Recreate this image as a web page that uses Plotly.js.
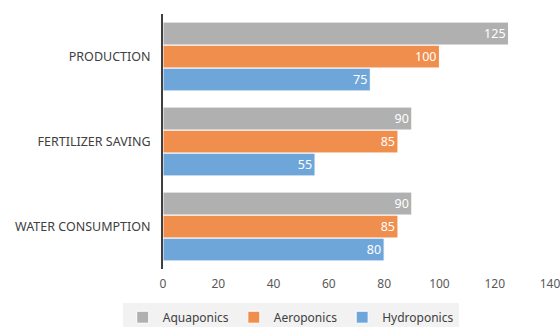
<!DOCTYPE html>
<html>
<head>
<script src="https://cdn.plot.ly/plotly-3.0.1.min.js"></script>
<style>body{margin:0;padding:0;background:#fff;}#chart{width:560px;height:327px;}</style>
</head>
<body>
<div id="chart"></div>
<script>
var categories = ['WATER CONSUMPTION', 'FERTILIZER SAVING', 'PRODUCTION'];
var seriesNames = ['Aquaponics', 'Aeroponics', 'Hydroponics'];
var aquaponics = [90, 90, 125];
var aeroponics = [85, 85, 100];
var hydroponics = [80, 55, 75];
var tickVals = [0, 20, 40, 60, 80, 100, 120, 140];

var colors = {Aquaponics: '#b0b0b0', Aeroponics: '#ef8e4d', Hydroponics: '#6fa6da'};
var values = {Aquaponics: aquaponics, Aeroponics: aeroponics, Hydroponics: hydroponics};

var fontFam = 'Noto Sans, Open Sans, sans-serif';
var traces = ['Hydroponics', 'Aeroponics', 'Aquaponics'].map(function(name, i){
  return {
    type: 'bar', orientation: 'h', name: name,
    y: categories, x: values[name],
    text: values[name].map(String),
    textposition: 'inside', insidetextanchor: 'end', constraintext: 'none', textangle: 0,
    textfont: {color: '#ffffff', size: 12.5, family: fontFam},
    marker: {color: colors[name], line: {color: '#ffffff', width: 1}},
    legendrank: 3 - i
  };
});

var layout = {
  width: 560, height: 327,
  margin: {l: 163, r: 10, t: 14, b: 58, autoexpand: false},
  paper_bgcolor: '#ffffff', plot_bgcolor: '#ffffff',
  barmode: 'group', bargap: 0.19, bargroupgap: 0,
  font: {family: fontFam, color: '#404040', size: 12},
  xaxis: {range: [0, 140], tickvals: tickVals, showgrid: false, zeroline: false,
          showline: false, ticks: '', ticklabelstandoff: 6, ticklabeloverflow: 'allow',
          tickfont: {size: 12, color: '#595959'}, fixedrange: true},
  yaxis: {showgrid: false, zeroline: false, showline: true, linecolor: '#404040', linewidth: 2,
          ticks: '', ticklabelstandoff: 8, tickfont: {size: 12.5, color: '#404040'}, fixedrange: true},
  showlegend: true,
  legend: {orientation: 'h', x: 0.33, xanchor: 'center', yref: 'container', y: 0.03, yanchor: 'middle',
           bgcolor: '#f2f2f2', font: {size: 12, color: '#404040'}, itemwidth: 30}
};

Plotly.newPlot('chart', traces, layout, {displayModeBar: false, staticPlot: true});
</script>
</body>
</html>
